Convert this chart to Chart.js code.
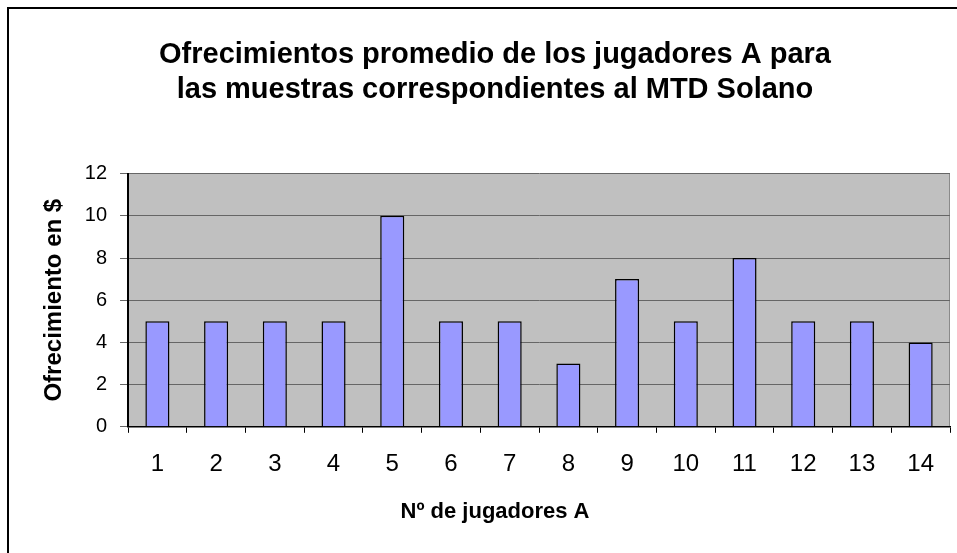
<!DOCTYPE html>
<html>
<head>
<meta charset="utf-8">
<script src="https://cdn.jsdelivr.net/npm/chart.js@4"></script>
<style>
  html, body { margin: 0; padding: 0; background: #fff; }
  #wrap { width: 957px; height: 553px; }
</style>
</head>
<body>
<div id="wrap"><canvas id="chart" width="957" height="553"></canvas></div>
<script>
// datos
const categories = ['1', '2', '3', '4', '5', '6', '7', '8', '9', '10', '11', '12', '13', '14'];
const ofrecimientos = [5, 5, 5, 5, 10, 5, 5, 3, 7, 5, 8, 5, 5, 4];
const yTicks = [0, 2, 4, 6, 8, 10, 12];

const fontFamily = '"Liberation Sans", Arial, sans-serif';

// marco exterior y fondo gris del área de trazado
const fondo = {
    id: 'fondo',
    beforeDraw(chart) {
        const { ctx, chartArea } = chart;
        ctx.save();
        ctx.fillStyle = '#fff';
        ctx.fillRect(0, 0, chart.width, chart.height);
        ctx.strokeStyle = '#000';
        ctx.lineWidth = 2;
        ctx.strokeRect(8, 8, chart.width + 10, chart.height + 10);
        ctx.fillStyle = '#C0C0C0';
        ctx.fillRect(chartArea.left, chartArea.top, chartArea.right - chartArea.left, chartArea.bottom - chartArea.top);
        ctx.strokeStyle = '#8a8a8a';
        ctx.lineWidth = 1;
        ctx.beginPath();
        ctx.moveTo(chartArea.right - 0.5, chartArea.top);
        ctx.lineTo(chartArea.right - 0.5, chartArea.bottom);
        ctx.stroke();
        ctx.restore();
    }
};

const ctx = document.getElementById('chart').getContext('2d');
new Chart(ctx, {
    type: 'bar',
    data: {
        labels: categories,
        datasets: [{
            data: ofrecimientos,
            backgroundColor: '#9999FF',
            borderColor: '#000',
            borderWidth: 1.5,
            categoryPercentage: 1,
            barPercentage: 0.41
        }]
    },
    options: {
        responsive: false,
        animation: false,
        layout: { padding: { left: 40, right: 7, top: 10, bottom: 28 } },
        plugins: {
            legend: { display: false },
            tooltip: { enabled: false },
            title: {
                display: true,
                text: ['Ofrecimientos promedio de los jugadores A para', 'las muestras correspondientes al MTD Solano'],
                color: '#000',
                font: { family: fontFamily, size: 29, weight: 'bold', lineHeight: 1.2 },
                padding: { top: 28, bottom: 66 }
            },
            subtitle: {
                display: true,
                position: 'bottom',
                text: 'Nº de jugadores A',
                color: '#000',
                font: { family: fontFamily, size: 22, weight: 'bold', lineHeight: 1.2 },
                padding: { top: 3, bottom: 0 }
            }
        },
        scales: {
            x: {
                offset: true,
                grid: {
                    display: true,
                    offset: true,
                    drawOnChartArea: false,
                    color: '#000',
                    tickLength: 6
                },
                border: { color: '#000', width: 1.5 },
                ticks: {
                    color: '#000',
                    font: { family: fontFamily, size: 24 },
                    padding: 17,
                    maxRotation: 0
                }
            },
            y: {
                min: yTicks[0],
                max: yTicks[yTicks.length - 1],
                afterBuildTicks(scale) {
                    scale.ticks = yTicks.map(v => ({ value: v }));
                },
                grid: {
                    color: '#666',
                    tickLength: 8
                },
                border: { color: '#000', width: 2 },
                ticks: {
                    color: '#000',
                    font: { family: fontFamily, size: 20 },
                    padding: 13
                },
                title: {
                    display: true,
                    text: 'Ofrecimiento en $',
                    color: '#000',
                    font: { family: fontFamily, size: 24, weight: 'bold', lineHeight: 1.2 },
                    padding: { top: 0, bottom: 3 }
                }
            }
        }
    },
    plugins: [fondo]
});
</script>
</body>
</html>
